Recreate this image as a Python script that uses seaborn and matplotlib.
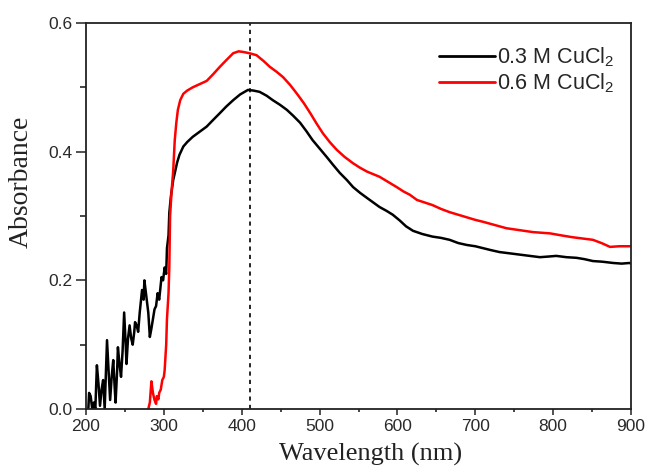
import numpy as np
import pandas as pd
import matplotlib
matplotlib.use("Agg")
import matplotlib.pyplot as plt
import seaborn as sns

# ---- data ----
wl_03 = [203, 204, 206, 208, 210, 212, 214, 216, 218, 220, 222, 224, 227, 229, 231, 233,
         235, 237, 238, 240, 241, 243, 245, 247, 249, 251, 252, 254, 256, 258, 260, 262,
         263, 265, 267, 269, 272, 274, 275, 277, 278, 280, 282, 284, 286, 288, 290, 292,
         294, 297, 299, 301, 303, 304, 306,
         307, 309, 312, 315, 317, 320, 325, 330, 337, 346, 355, 363, 372, 380, 389, 398,
         408, 415, 423, 432, 440, 449, 458, 466, 475, 483, 491, 500, 509, 517, 526, 535,
         543, 552, 561, 569, 577, 586, 594, 603, 611, 620, 632, 645, 656, 667, 678, 689,
         700, 710, 720, 731, 744, 757, 770, 783, 794, 804, 817, 830, 840, 851, 863, 877,
         888, 898, 900]
abs_03 = [0.0, 0.025, 0.02, 0.0, 0.01, 0.0, 0.068, 0.04, 0.005, 0.03, 0.045, 0.0, 0.107, 0.06, 0.014, 0.05,
          0.076, 0.03, 0.01, 0.06, 0.096, 0.07, 0.05, 0.09, 0.15, 0.10, 0.07, 0.11, 0.13, 0.11, 0.10, 0.12,
          0.135, 0.13, 0.12, 0.15, 0.185, 0.17, 0.20, 0.18, 0.17, 0.15, 0.112, 0.125, 0.14, 0.155, 0.16, 0.18,
          0.17, 0.205, 0.20, 0.22, 0.21, 0.25, 0.27,
          0.305, 0.33, 0.356, 0.372, 0.383, 0.395, 0.408, 0.415, 0.423, 0.431, 0.439, 0.449, 0.46, 0.47, 0.48, 0.489,
          0.496, 0.495, 0.493, 0.487, 0.48, 0.473, 0.465, 0.456, 0.445, 0.432, 0.418, 0.405, 0.392, 0.38, 0.367, 0.356,
          0.345, 0.336, 0.328, 0.321, 0.314, 0.308, 0.302, 0.293, 0.284, 0.277, 0.272, 0.268, 0.266, 0.263, 0.258, 0.255,
          0.253, 0.25, 0.247, 0.244, 0.242, 0.24, 0.238, 0.236, 0.237, 0.238, 0.236, 0.235, 0.233, 0.23, 0.229, 0.227,
          0.226, 0.227, 0.226]

wl_06 = [280, 282, 284, 286, 288, 290, 291, 293, 294, 296, 298, 300, 301, 303, 304, 306,
         307, 308, 310, 312, 314, 316, 318, 321, 325, 330, 337, 346, 355, 363, 372, 380,
         389, 396, 402, 410, 419, 428, 436, 445, 453, 462, 471, 480, 488, 496, 504, 513,
         522, 532, 543, 552, 561, 569, 577, 588, 599, 608, 616, 625, 635, 645, 656, 667,
         678, 689, 700, 710, 725, 740, 757, 774, 785, 796, 810, 825, 838, 851, 862, 873,
         885, 898, 900]
abs_06 = [0.0, 0.01, 0.043, 0.025, 0.014, 0.008, 0.02, 0.015, 0.025, 0.03, 0.045, 0.05, 0.06, 0.10, 0.14, 0.18,
          0.22, 0.30, 0.34, 0.37, 0.418, 0.445, 0.465, 0.48, 0.49, 0.495, 0.50, 0.505, 0.51, 0.52, 0.532, 0.542,
          0.553, 0.556, 0.555, 0.553, 0.55, 0.541, 0.532, 0.524, 0.516, 0.504, 0.49, 0.475, 0.46, 0.444, 0.429, 0.415,
          0.403, 0.392, 0.382, 0.375, 0.369, 0.365, 0.361, 0.353, 0.345, 0.338, 0.333, 0.325, 0.321, 0.317, 0.311, 0.306,
          0.302, 0.298, 0.294, 0.291, 0.286, 0.281, 0.278, 0.275, 0.274, 0.273, 0.27, 0.267, 0.265, 0.263, 0.258, 0.252,
          0.253, 0.253, 0.253]

labels = ["0.3 M CuCl$_2$", "0.6 M CuCl$_2$"]
colors = ["#000000", "#ff0000"]
peak_wl = 410
x_ticks = [200, 300, 400, 500, 600, 700, 800, 900]
y_ticks = [0.0, 0.2, 0.4, 0.6]

df = pd.concat([
    pd.DataFrame({"Wavelength": wl_03, "Absorbance": abs_03, "sample": labels[0]}),
    pd.DataFrame({"Wavelength": wl_06, "Absorbance": abs_06, "sample": labels[1]}),
], ignore_index=True)

sns.set_theme(style="ticks")
plt.rcParams["font.family"] = ["Liberation Sans", "DejaVu Sans"]
plt.rcParams["mathtext.fontset"] = "custom"
plt.rcParams["mathtext.rm"] = "Liberation Sans"

fig = plt.figure(figsize=(6.49, 4.66), dpi=100)
ax = fig.add_axes([0.1325, 0.1223, 0.8398, 0.8283])

sns.lineplot(data=df, x="Wavelength", y="Absorbance", hue="sample",
             palette=dict(zip(labels, colors)), linewidth=1.8,
             estimator=None, sort=False, ax=ax)

ax.axvline(peak_wl, color="black", linestyle=(0, (2.5, 2.5)), linewidth=1.2)

ax.set_xlim(200, 900)
ax.set_ylim(0, 0.6)
ax.set_xticks(x_ticks)
ax.set_yticks(y_ticks)
ax.set_xticks(np.arange(250, 900, 100), minor=True)
ax.set_yticks([0.1, 0.3, 0.5], minor=True)
ax.set_yticklabels([f"{v:.1f}" for v in y_ticks])
ax.tick_params(axis="both", which="major", direction="out", width=1.2,
               labelsize=12.5, colors="#333333", labelcolor="#2a2a2a", pad=3)
ax.tick_params(axis="y", which="major", length=7)
ax.tick_params(axis="y", which="minor", length=4, width=1.2, direction="out")
ax.tick_params(axis="x", which="major", length=4)
ax.tick_params(axis="x", which="minor", length=2.5, width=1.2, direction="out")
ax.tick_params(top=False, right=False)
for s in ax.spines.values():
    s.set_linewidth(1.3)
    s.set_color("#222222")

ax.set_xlabel("Wavelength (nm)", family=["Liberation Serif"], fontsize=19,
              color="#222222")
ax.set_ylabel("Absorbance", family=["Liberation Serif"], fontsize=20,
              color="#222222")
ax.xaxis.set_label_coords(0.522, -0.088)
ax.yaxis.set_label_coords(-0.096, 0.588)

leg = ax.legend(loc="upper right", frameon=False, fontsize=15.5, handlelength=2.6,
                handletextpad=0.08, bbox_to_anchor=(0.985, 0.965),
                borderaxespad=0.0, labelspacing=0.12)
for h in leg.get_lines():
    h.set_linewidth(2)

fig.savefig("out.png", dpi=100)
